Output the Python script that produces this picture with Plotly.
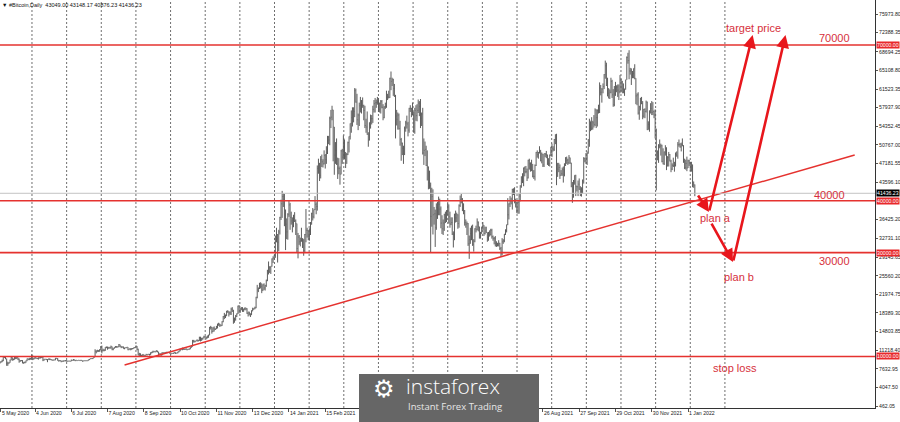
import pandas as pd
import plotly.graph_objects as go

# ---------------- data (daily BTC bars, values in thousands USD: close, high, low) ----------------
m2020_05 = [(8.9,9.0,8.6),(9.0,9.1,8.8),(9.2,9.4,8.9),(10.0,10.0,9.1),(9.8,10.0,9.7),(9.5,9.9,9.5),(8.7,9.6,8.2),
            (8.6,9.0,8.2),(8.8,8.9,8.6),(9.3,9.4,8.8),(9.8,9.9,9.3),(9.3,9.8,9.2),(9.4,9.6,9.3),(9.7,9.9,9.4),
            (9.7,9.9,9.5),(9.8,9.9,9.5),(9.5,9.8,9.3),(9.1,9.6,8.8),(9.2,9.3,9.0),(9.2,9.3,9.1),(8.7,9.3,8.7),
            (8.9,8.9,8.6),(8.8,9.0,8.7),(9.2,9.2,8.8),(9.6,9.6,9.1),(9.4,9.6,9.3),(9.7,9.7,9.3),(9.5,9.7,9.4)]
m2020_06 = [(10.2,10.4,9.4),(9.5,10.2,9.3),(9.7,9.7,9.4),(9.8,9.9,9.5),(9.6,9.8,9.6),(9.7,9.7,9.5),(9.8,9.8,9.4),
            (9.8,9.8,9.6),(9.8,9.9,9.6),(9.9,9.9,9.7),(9.3,9.9,9.1),(9.5,9.5,9.2),(9.5,9.5,9.4),(9.4,9.5,9.3),
            (9.4,9.5,8.9),(9.5,9.6,9.4),(9.5,9.6,9.3),(9.4,9.5,9.3),(9.3,9.4,9.2),(9.3,9.4,9.2),(9.3,9.4,9.3),
            (9.7,9.7,9.3),(9.6,9.7,9.6),(9.3,9.7,9.2),(9.2,9.3,9.0),(9.2,9.3,9.1),(9.0,9.2,8.9),(9.1,9.2,9.0),
            (9.2,9.2,9.0),(9.1,9.2,9.1)]
m2020_07 = [(9.2,9.3,9.1),(9.1,9.3,9.0),(9.1,9.1,9.0),(9.1,9.2,9.1),(9.1,9.1,9.0),(9.3,9.4,9.1),(9.3,9.3,9.2),
            (9.4,9.5,9.2),(9.2,9.4,9.2),(9.3,9.3,9.1),(9.2,9.3,9.2),(9.3,9.3,9.2),(9.2,9.3,9.2),(9.3,9.3,9.2),
            (9.2,9.3,9.2),(9.1,9.2,9.0),(9.2,9.2,9.1),(9.2,9.2,9.1),(9.2,9.2,9.1),(9.2,9.2,9.1),(9.4,9.4,9.2),
            (9.5,9.5,9.3),(9.6,9.6,9.5),(9.6,9.6,9.5),(9.7,9.7,9.5),(9.9,10.0,9.7),(11.0,11.4,9.9),(10.9,11.2,10.6),
            (11.1,11.3,10.9),(11.1,11.2,10.9),(11.3,11.4,10.9)]
m2020_08 = [(11.8,12.0,11.2),(11.1,12.1,10.6),(11.2,11.5,11.0),(11.2,11.4,11.0),(11.8,11.8,11.1),(11.8,11.9,11.6),
            (11.6,11.9,11.3),(11.8,11.8,11.5),(11.7,11.8,11.5),(11.9,12.1,11.5),(11.4,11.9,11.2),(11.6,11.6,11.2),
            (11.8,11.8,11.5),(11.8,12.0,11.7),(11.9,12.0,11.7),(11.9,11.9,11.7),(12.3,12.4,11.8),(12.0,12.3,11.8),
            (11.8,12.0,11.6),(11.9,11.9,11.7),(11.5,11.9,11.5),(11.7,11.7,11.4),(11.7,11.7,11.6),(11.8,11.8,11.6),
            (11.3,11.8,11.2),(11.5,11.5,11.3),(11.3,11.6,11.2),(11.5,11.6,11.3),(11.5,11.6,11.4),(11.7,11.7,11.5),
            (11.7,11.8,11.6)]
m2020_09 = [(12.0,12.1,11.7),(11.4,12.0,11.2),(10.3,11.5,10.2),(10.5,10.7,10.1),(10.2,10.6,9.9),(10.3,10.3,10.0),
            (10.4,10.4,10.0),(10.1,10.4,10.0),(10.2,10.3,10.1),(10.4,10.5,10.2),(10.4,10.4,10.2),(10.4,10.5,10.4),
            (10.3,10.5,10.2),(10.7,10.8,10.3),(10.8,10.9,10.6),(11.0,11.1,10.7),(11.0,11.0,10.8),(10.9,11.0,10.8),
            (11.1,11.2,10.9),(10.9,11.1,10.8),(10.4,10.9,10.3),(10.5,10.6,10.4),(10.2,10.6,10.2),(10.7,10.8,10.2),
            (10.7,10.8,10.6),(10.7,10.8,10.7),(10.8,10.8,10.6),(10.7,10.9,10.7),(10.8,10.9,10.7),(10.8,10.8,10.7)]
m2020_10 = [(10.6,10.9,10.5),(10.6,10.6,10.4),(10.6,10.6,10.5),(10.7,10.7,10.5),(10.8,10.8,10.6),(10.6,10.8,10.5),
            (10.7,10.7,10.6),(10.9,10.9,10.6),(11.1,11.1,10.8),(11.3,11.5,11.0),(11.4,11.4,11.3),(11.6,11.7,11.2),
            (11.4,11.6,11.3),(11.4,11.5,11.3),(11.5,11.5,11.3),(11.3,11.5,11.2),(11.4,11.4,11.3),(11.5,11.5,11.3),
            (11.8,11.8,11.4),(11.9,12.0,11.7),(12.8,13.2,11.9),(13.0,13.2,12.7),(12.9,13.0,12.7),(13.1,13.1,12.9),
            (13.0,13.3,12.9),(13.1,13.2,12.9),(13.7,13.8,13.0),(13.3,13.8,12.9),(13.5,13.6,13.0),(13.6,13.6,13.2),
            (13.8,14.0,13.5)]
m2020_11 = [(13.8,13.9,13.6),(13.6,13.8,13.3),(14.0,14.0,13.5),(14.1,14.2,13.6),(15.6,15.7,14.1),(15.6,15.9,15.2),
            (14.8,15.7,14.4),(15.5,15.6,14.7),(15.3,15.8,14.8),(15.3,15.4,15.1),(15.7,15.9,15.3),(16.3,16.3,15.4),
            (16.3,16.5,15.9),(16.1,16.3,15.7),(16.0,16.1,15.8),(16.7,16.8,15.9),(17.7,17.8,16.6),(17.8,18.4,17.2),
            (17.8,18.1,17.4),(18.7,18.8,17.8),(18.7,18.9,18.4),(18.4,18.7,17.7),(18.4,18.7,18.0),(19.1,19.4,18.0),
            (18.7,19.5,18.6),(17.2,19.0,16.3),(17.1,17.5,16.5),(17.7,18.0,16.9),(18.2,18.3,17.6),(19.7,19.8,18.2)]
m2020_12 = [(18.8,19.9,18.3),(19.2,19.3,18.4),(19.4,19.5,18.9),(18.7,19.5,18.6),(19.2,19.2,18.6),(19.4,19.4,18.9),
            (19.2,19.4,18.9),(18.3,19.3,18.2),(18.6,18.6,17.7),(18.3,18.6,17.9),(18.0,18.3,17.6),(18.8,18.9,18.0),
            (19.1,19.4,18.7),(19.3,19.3,19.0),(19.4,19.6,19.1),(21.4,21.5,19.3),(22.8,23.8,21.2),(23.1,23.3,22.4),
            (23.9,24.2,23.0),(23.5,24.3,23.1),(22.8,24.1,22.2),(23.8,23.9,22.6),(23.2,24.1,22.8),(23.7,23.8,22.7),
            (24.7,24.8,23.4),(26.5,26.7,24.5),(26.3,28.3,25.8),(27.1,27.4,26.1),(27.4,27.4,25.9),(28.8,28.9,27.3),
            (29.0,29.3,28.0)]
m2021_01 = [(29.4,29.6,28.7),(32.1,33.3,29.0),(32.8,34.8,32.0),(32.0,33.6,28.1),(34.0,34.4,30.3),(36.8,36.9,33.5),
            (39.4,40.2,36.3),(40.8,41.9,36.7),(40.3,41.4,38.8),(38.2,41.3,35.1),(35.5,38.3,30.5),(34.0,36.6,32.6),
            (37.4,37.6,32.5),(39.2,40.0,36.9),(36.8,39.6,34.4),(36.1,37.9,35.4),(35.8,36.8,33.9),(36.6,37.3,34.9),
            (36.1,37.8,35.9),(35.6,36.4,33.4),(30.8,35.6,30.1),(33.0,33.8,28.9),(32.1,33.4,31.5),(32.3,32.9,31.2),
            (32.4,34.8,32.1),(32.6,32.8,30.9),(30.4,32.6,29.4),(33.5,33.6,30.0),(34.3,38.4,32.0),(34.3,34.8,32.9),
            (33.1,34.3,32.4)]
m2021_02 = [(33.5,34.7,32.3),(35.5,35.9,33.4),(37.5,37.7,35.4),(36.9,38.6,36.2),(38.3,38.3,36.6),(39.3,40.9,38.2),
            (38.9,39.7,37.4),(46.2,46.8,38.1),(46.5,48.1,45.2),(44.9,47.3,43.8),(47.9,48.6,44.3),(47.5,48.9,46.5),
            (47.1,48.0,46.4),(48.7,49.7,47.0),(47.9,49.0,46.2),(49.2,50.5,47.1),(52.2,52.5,49.0),(51.7,52.5,50.9),
            (55.9,56.2,50.7),(56.1,57.5,54.0),(57.5,58.3,55.5),(54.2,57.5,47.6),(48.8,54.2,45.0),(49.7,51.3,47.1),
            (47.1,52.0,46.9),(46.3,48.3,44.2),(46.2,48.2,45.1),(45.1,46.6,43.1)]
m2021_03 = [(49.6,49.8,45.1),(48.4,50.0,47.1),(50.5,52.6,48.1),(48.6,51.8,48.0),(48.9,49.4,46.3),(48.9,49.2,47.1),
            (51.2,51.4,48.8),(52.4,52.4,49.3),(54.9,54.9,51.8),(56.0,57.4,53.1),(57.8,58.0,54.3),(57.2,58.0,55.1),
            (61.2,61.7,56.1),(59.0,61.6,58.9),(55.6,60.6,54.6),(56.5,56.8,53.6),(58.3,58.9,54.4),(57.7,60.0,57.0),
            (58.4,59.4,56.8),(58.3,59.9,57.9),(57.4,58.5,55.5),(54.5,58.3,54.0),(54.2,55.8,53.1),(52.8,57.2,52.7),
            (51.7,53.2,50.4),(55.1,55.1,51.6),(55.8,56.6,53.9),(55.8,56.5,54.7),(57.6,58.3,55.0),(58.7,59.4,57.0),
            (58.9,59.8,57.0)]
m2021_04 = [(58.9,59.5,57.9),(59.1,60.0,58.5),(57.6,59.8,57.1),(58.8,58.9,57.0),(59.1,59.4,56.8),(58.0,59.4,57.8),
            (56.0,58.6,55.5),(58.1,58.2,55.9),(58.2,58.9,57.7),(59.9,61.2,57.9),(60.0,60.6,59.4),(59.9,61.2,59.7),
            (63.6,63.7,59.8),(63.0,64.9,61.3),(63.3,63.7,62.1),(61.6,63.5,60.2),(60.1,62.5,60.0),(56.3,60.4,52.0),
            (55.7,57.5,54.5),(56.5,57.0,53.7),(53.9,56.8,53.7),(51.8,55.4,50.6),(51.1,52.1,47.7),(50.1,51.2,48.8),
            (49.0,50.6,47.1),(54.0,54.3,48.8),(55.0,55.4,53.3),(54.8,56.4,53.9),(53.6,55.2,52.4),(57.8,57.9,53.1)]
m2021_05 = [(57.8,58.4,57.1),(56.6,57.9,56.1),(57.2,58.9,56.5),(53.3,57.1,53.1),(57.4,57.9,52.9),(56.4,58.4,55.4),
            (57.4,58.6,55.3),(58.8,59.5,56.9),(58.2,59.2,56.3),(55.9,59.6,54.0),(56.7,57.0,54.4),(49.2,57.9,48.9),
            (49.7,52.0,46.9),(49.9,51.4,48.6),(46.8,50.6,46.7),(46.5,49.7,43.9),(43.5,46.6,42.2),(42.9,45.8,42.3),
            (37.0,43.5,30.0),(40.8,42.5,35.0),(37.3,42.2,33.5),(37.5,38.8,35.4),(34.8,38.3,31.1),(38.7,39.5,34.4),
            (38.4,39.8,36.5),(39.3,40.8,37.2),(38.4,40.4,37.2),(35.7,38.9,34.7),(34.6,37.2,33.6),(35.7,36.4,33.4),
            (37.3,37.5,34.2)]
m2021_06 = [(36.7,37.9,35.7),(37.6,38.2,35.9),(39.2,39.5,37.2),(36.9,39.3,35.6),(35.5,37.9,34.8),(35.8,36.8,35.3),
            (33.6,36.8,33.4),(33.5,34.1,31.0),(37.4,37.5,32.4),(36.7,38.1,35.8),(37.3,37.7,35.9),(35.6,37.4,34.6),
            (39.1,39.3,34.8),(40.2,41.0,38.8),(40.4,41.3,39.5),(38.4,40.5,38.0),(38.1,39.5,37.4),(35.8,38.2,35.2),
            (35.5,36.4,34.8),(35.6,36.0,33.4),(31.7,35.7,31.3),(32.5,33.3,28.8),(33.7,34.8,31.7),(34.7,35.2,32.4),
            (31.6,35.4,31.3),(32.2,32.6,30.2),(34.6,34.7,32.0),(34.4,35.2,33.9),(35.9,36.6,34.3),(35.0,36.0,34.1)]
m2021_07 = [(33.6,35.0,32.7),(33.9,34.0,32.7),(34.7,35.0,33.6),(35.3,35.9,34.4),(33.7,35.3,33.2),(34.2,35.0,33.5),
            (33.9,35.0,33.8),(32.9,33.9,32.1),(33.8,34.0,32.3),(33.5,34.3,33.1),(34.3,34.6,33.3),(33.1,34.6,32.7),
            (32.7,33.3,32.3),(32.8,33.0,31.6),(31.8,33.2,31.2),(31.4,32.2,31.1),(31.5,31.9,31.2),(31.8,32.4,31.2),
            (30.8,31.9,30.5),(29.8,31.1,29.3),(32.1,32.8,29.5),(32.3,32.6,31.7),(33.6,33.6,32.0),(34.3,34.5,33.4),
            (35.4,35.4,33.9),(37.3,40.5,35.3),(39.4,39.5,36.4),(40.0,40.9,38.8),(40.0,40.6,39.3),(42.2,42.3,38.3),
            (41.6,42.4,41.1)]
m2021_08 = [(40.0,42.6,39.5),(39.2,40.4,38.7),(38.2,39.8,37.6),(39.7,39.9,37.5),(40.9,41.4,37.5),(42.8,43.0,39.9),
            (44.6,44.7,42.5),(43.8,45.3,43.4),(46.3,46.4,42.8),(45.6,46.6,44.7),(45.6,46.7,45.3),(44.4,46.2,43.8),
            (47.8,47.9,44.3),(47.1,48.1,46.0),(47.1,47.4,45.6),(45.9,47.9,45.7),(44.7,47.1,44.5),(44.7,45.9,44.2),
            (46.8,47.0,43.9),(49.3,49.4,46.7),(48.9,49.7,48.3),(49.3,49.4,48.1),(49.5,50.5,49.1),(47.7,49.8,47.6),
            (49.0,49.3,47.2),(46.9,49.0,46.5),(49.1,49.1,46.5),(48.9,49.2,48.4),(48.8,49.6,48.2),(47.1,48.9,46.9),
            (47.2,48.2,46.7)]
m2021_09 = [(48.8,48.9,46.6),(49.3,50.4,48.6),(50.0,51.0,48.4),(49.9,50.5,49.5),(51.8,51.9,49.6),(52.7,52.8,50.9),
            (46.9,52.9,43.0),(46.1,47.3,44.6),(46.4,47.3,45.5),(44.9,47.0,44.2),(45.2,45.9,44.8),(46.0,46.4,44.8),
            (45.0,46.6,43.5),(47.1,47.2,44.7),(48.2,48.4,46.7),(47.8,48.5,47.1),(47.3,48.1,46.9),(48.3,48.8,47.1),
            (47.3,48.3,47.1),(42.8,47.3,42.6),(40.7,43.6,39.6),(43.6,44.0,40.6),(44.9,44.9,43.1),(42.8,45.0,40.9),
            (42.7,42.9,41.8),(43.2,43.9,40.9),(42.2,44.3,42.1),(41.0,42.8,40.9),(41.6,42.6,40.8),(43.8,44.1,41.4)]
m2021_10 = [(48.1,48.4,43.3),(47.7,48.3,47.4),(48.2,49.2,47.1),(49.1,49.5,46.9),(51.5,51.9,49.1),(55.4,55.8,50.4),
            (53.8,55.3,53.4),(54.0,56.1,53.6),(55.0,55.4,53.7),(54.7,56.5,54.1),(57.5,57.8,54.4),(56.0,57.6,54.0),
            (57.4,57.6,54.3),(57.4,58.5,56.8),(61.7,62.8,56.9),(60.9,62.3,60.3),(61.5,61.7,58.9),(62.0,62.6,60.7),
            (64.3,64.4,61.5),(66.0,67.0,63.5),(62.2,66.6,62.1),(60.7,63.7,60.1),(61.4,61.7,59.7),(60.9,61.4,59.6),
            (63.0,63.7,60.7),(60.4,63.3,59.8),(58.5,61.5,58.1),(60.6,62.1,58.2),(62.2,62.9,60.2),(61.9,62.2,60.9),
            (61.3,62.4,60.0)]
m2021_11 = [(61.0,62.4,59.4),(63.2,64.2,60.7),(62.9,63.5,61.0),(61.5,63.1,60.7),(61.0,62.6,60.7),(61.5,61.6,60.2),
            (63.3,63.3,61.4),(67.6,67.8,63.3),(67.0,68.5,66.4),(65.0,69.0,63.4),(65.0,65.6,64.3),(64.2,65.5,62.3),
            (64.5,65.0,63.6),(65.5,65.5,63.6),(63.6,66.3,63.4),(60.2,63.6,58.6),(60.4,60.7,58.4),(56.9,60.9,56.6),
            (58.1,58.3,55.6),(59.8,59.8,57.4),(58.7,60.0,58.6),(56.3,59.2,55.7),(57.6,57.7,56.0),(57.2,57.8,55.9),
            (59.0,59.3,57.0),(53.7,59.1,53.6),(54.7,55.3,53.7),(57.3,57.4,53.3),(57.8,58.8,56.8),(57.0,59.2,56.5)]
m2021_12 = [(57.2,59.0,56.5),(56.5,57.4,55.9),(53.6,57.6,52.0),(49.2,53.9,42.0),(49.4,49.7,47.8),(50.6,50.9,47.3),
            (50.5,51.8,50.1),(50.6,51.0,48.7),(47.6,50.8,47.4),(47.1,50.1,47.0),(49.4,49.5,46.9),(50.1,50.7,48.7),
            (46.7,50.3,45.9),(48.3,48.6,46.6),(48.9,49.4,46.6),(47.6,49.0,47.6),(46.1,47.9,45.5),(46.8,47.2,45.9),
            (46.7,48.3,46.5),(46.9,47.5,45.6),(48.9,49.3,46.6),(48.6,49.5,48.5),(50.8,51.3,48.1),(50.8,51.8,50.4),
            (50.4,51.1,50.2),(50.8,51.2,49.5),(50.6,52.0,50.5),(47.6,50.7,47.3),(46.4,48.1,46.1),(47.2,47.9,46.0),
            (46.3,48.5,45.7)]
m2022_01 = [(47.7,47.9,46.3),(47.3,47.9,46.7),(46.5,47.5,45.7),(45.9,47.5,45.6),(43.6,47.0,42.6),(43.2,43.7,42.5)]

month_starts = ["2020-05-04", "2020-06-01", "2020-07-01", "2020-08-01", "2020-09-01", "2020-10-01",
                "2020-11-01", "2020-12-01", "2021-01-01", "2021-02-01", "2021-03-01", "2021-04-01",
                "2021-05-01", "2021-06-01", "2021-07-01", "2021-08-01", "2021-09-01", "2021-10-01",
                "2021-11-01", "2021-12-01", "2022-01-01"]
months = [m2020_05, m2020_06, m2020_07, m2020_08, m2020_09, m2020_10, m2020_11, m2020_12,
          m2021_01, m2021_02, m2021_03, m2021_04, m2021_05, m2021_06, m2021_07, m2021_08,
          m2021_09, m2021_10, m2021_11, m2021_12, m2022_01]
first_open = 8.8  # thousands
last_bar_date = "2022-01-07"
header_ohlc = [43049.00, 43148.17, 40876.23, 41436.23]  # O H L C of last bar

# axis labels
xtick_dates = ["2020-05-05", "2020-06-04", "2020-07-06", "2020-08-07", "2020-09-08", "2020-10-10",
               "2020-11-11", "2020-12-13", "2021-01-14", "2021-02-15", "2021-08-26", "2021-09-27",
               "2021-10-29", "2021-11-30", "2022-01-01"]
xtick_text = ["5 May 2020", "4 Jun 2020", "6 Jul 2020", "7 Aug 2020", "8 Sep 2020", "10 Oct 2020",
              "11 Nov 2020", "13 Dec 2020", "14 Jan 2021", "15 Feb 2021", "26 Aug 2021", "27 Sep 2021",
              "29 Oct 2021", "30 Nov 2021", "1 Jan 2022"]
ytick_text = ["75973.80", "72388.35", "68694.25", "65108.80", "61523.35", "57937.90", "54352.45",
              "50767.00", "47181.55", "43596.10", "36425.20", "32731.10", "29145.65", "25560.20",
              "21974.75", "18389.30", "14803.85", "11218.40", "7632.95", "4047.50", "462.05"]
# vertical dotted grid (chart grid, every ~30.56 days)
grid_start = "2020-06-01 08:00"
grid_step_days = 30.56
grid_count = 21

# horizontal levels and annotations
levels = [70000, 40000, 30000, 10000]
level_labels = ["70000", "40000", "30000"]
level_label_dates = ["2022-05-10", "2022-05-06", "2022-05-10"]
level_label_prices = [71350, 41100, 28400]
note_texts = ["target price", "plan a", "plan b", "stop loss"]
note_dates = ["2022-02-28", "2022-01-25", "2022-02-15", "2022-02-11"]
note_prices = [73280, 36680, 25310, 7780]
trend_dates = ["2020-08-22", "2022-05-28"]
trend_prices = [8370, 48810]
# arrows: (tail date, tail price, head date, head price)
arrow_tail_dates = ["2022-01-09", "2022-01-19 12:00", "2022-01-21", "2022-02-09 17:00"]
arrow_tail_prices = [41300, 37830, 35900, 28200]
arrow_head_dates = ["2022-01-19 12:00", "2022-02-27", "2022-02-09 17:00", "2022-03-28"]
arrow_head_prices = [37830, 71930, 28200, 71930]

# ---------------- build bars ----------------
dates, close, high, low = [], [], [], []
for start, m in zip(month_starts, months):
    ds = pd.date_range(start, periods=len(m), freq="D")
    for d, (c, h, l) in zip(ds, m):
        dates.append(d)
        close.append(c * 1000)
        high.append(h * 1000)
        low.append(l * 1000)
opens = [first_open * 1000] + close[:-1]
dates.append(pd.Timestamp(last_bar_date))
opens.append(header_ohlc[0]); high.append(header_ohlc[1]); low.append(header_ohlc[2]); close.append(header_ohlc[3])

RED_LINE = "#e5322f"
RED_TEXT = "#d6303c"
AX_FONT = dict(family="Liberation Sans, Arial, sans-serif", size=5.2, color="#222")

fig = go.Figure()
fig.add_trace(go.Ohlc(x=dates, open=opens, high=high, low=low, close=close,
                      increasing=dict(line=dict(color="#5c5c5c", width=1)),
                      decreasing=dict(line=dict(color="#5c5c5c", width=1)),
                      tickwidth=0.3, showlegend=False, hoverinfo="skip"))
fig.add_trace(go.Scatter(x=trend_dates, y=trend_prices, mode="lines",
                         line=dict(color=RED_LINE, width=1.5), showlegend=False, hoverinfo="skip"))

# grid lines (below traces)
g0 = pd.Timestamp(grid_start)
for i in range(grid_count):
    gx = g0 + pd.Timedelta(days=grid_step_days * i)
    fig.add_shape(type="line", yref="paper", x0=gx, x1=gx, y0=0, y1=1, layer="below",
                  line=dict(color="#6f6f6f", width=1, dash="2px,2px"))

# current price line
fig.add_shape(type="line", xref="paper", x0=0, x1=1, y0=header_ohlc[3], y1=header_ohlc[3],
              line=dict(color="#c4c4c4", width=1))
for lv in levels:
    fig.add_shape(type="line", xref="paper", x0=0, x1=1, y0=lv, y1=lv, line=dict(color=RED_LINE, width=1.6))

annotations = []
for t, d, p in zip(level_labels, level_label_dates, level_label_prices):
    annotations.append(dict(x=d, y=p, text=t, showarrow=False, font=dict(family="Liberation Sans, Arial", size=11, color=RED_TEXT)))
for t, d, p in zip(note_texts, note_dates, note_prices):
    annotations.append(dict(x=d, y=p, text=t, showarrow=False, font=dict(family="Liberation Sans, Arial", size=11, color=RED_TEXT)))
for td, tp, hd, hp in zip(arrow_tail_dates, arrow_tail_prices, arrow_head_dates, arrow_head_prices):
    annotations.append(dict(x=hd, y=hp, ax=td, ay=tp, axref="x", ayref="y", text="", showarrow=True,
                            arrowhead=2, arrowsize=1.0, arrowwidth=2.6, arrowcolor="#e8161c", standoff=0))
# right axis price boxes
for lv in levels:
    annotations.append(dict(xref="paper", x=1, xanchor="left", xshift=1, y=lv, yanchor="middle", text=f"{lv:.2f}",
                            showarrow=False, bgcolor="#e8282b", borderpad=0,
                            font=dict(family="Liberation Sans, Arial", size=5.2, color="white")))
annotations.append(dict(xref="paper", x=1, xanchor="left", xshift=1, y=header_ohlc[3], yanchor="middle",
                        text=f"{header_ohlc[3]:.2f}", showarrow=False, bgcolor="#000000", borderpad=0,
                        font=dict(family="Liberation Sans, Arial", size=5.2, color="white")))
# header
annotations.append(dict(xref="paper", yref="paper", x=0, y=1, xanchor="left", yanchor="top", showarrow=False,
                        text="▼ #Bitcoin,Daily  " + " ".join(f"{v:.2f}" for v in header_ohlc),
                        font=dict(family="Liberation Sans, Arial", size=5.5, color="#111")))

# watermark
fig.add_shape(type="rect", xref="paper", yref="paper", x0=359/875, x1=539/875, y0=-14/408, y1=34/408,
              fillcolor="#666666", line=dict(width=0), layer="above")
annotations.append(dict(xref="paper", yref="paper", x=384/875, y=19/408, xanchor="center", yanchor="middle",
                        text="⚙", showarrow=False, font=dict(family="DejaVu Sans", size=24, color="white")))
annotations.append(dict(xref="paper", yref="paper", x=404/875, y=22.5/408, xanchor="left", yanchor="middle",
                        text="instaforex", showarrow=False,
                        font=dict(family="Open Sans, Lato, sans-serif", size=21, color="white", weight=300)))
annotations.append(dict(xref="paper", yref="paper", x=406/875, y=2/408, xanchor="left", yanchor="middle",
                        text="Instant Forex Trading", showarrow=False,
                        font=dict(family="Open Sans, Lato, sans-serif", size=9.5, color="#e6e6e6")))

fig.update_layout(
    width=900, height=422, margin=dict(l=0, r=25, t=0, b=14, autoexpand=False),
    paper_bgcolor="white", plot_bgcolor="white", showlegend=False,
    annotations=annotations,
    xaxis=dict(type="date", range=["2020-05-04 03:00", "2022-06-14 22:00"],
               tickmode="array", tickvals=xtick_dates, ticktext=xtick_text, tickangle=0, automargin=False,
               ticks="outside", ticklen=3, tickcolor="#555", ticklabelposition="outside right",
               tickfont=AX_FONT, showgrid=False, zeroline=False, showline=True, linecolor="#333", linewidth=1,
               rangeslider=dict(visible=False), fixedrange=True),
    yaxis=dict(range=[76.8, 78670.6], side="right", tickmode="array", automargin=False,
               tickvals=[float(v) for v in ytick_text], ticktext=ytick_text,
               ticks="outside", ticklen=2, tickcolor="#555", tickfont=AX_FONT, ticklabelstandoff=0,
               showgrid=False, zeroline=False, showline=True, linecolor="#333", linewidth=1, fixedrange=True),
)

fig.write_html("out.html", config={"displayModeBar": False},
               post_script="document.body.style.margin='0';document.body.style.overflow='hidden';")
